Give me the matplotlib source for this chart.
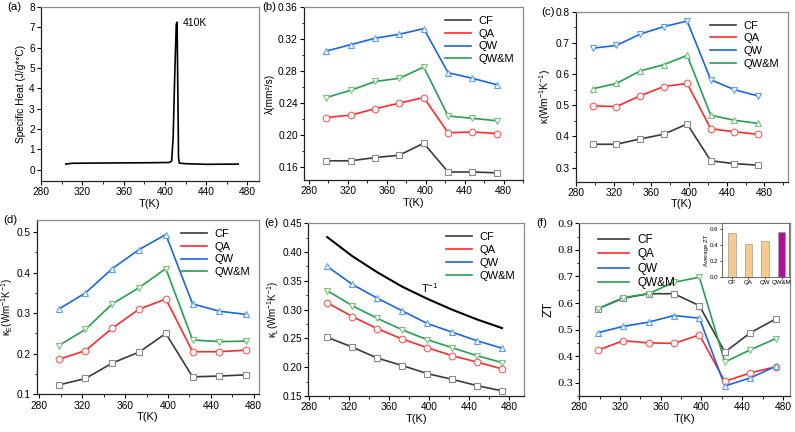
import matplotlib
matplotlib.use("Agg")
import matplotlib.pyplot as plt
from matplotlib.ticker import MultipleLocator, AutoMinorLocator

plt.rcParams["font.family"] = ["Liberation Sans", "DejaVu Sans"]
plt.rcParams["mathtext.fontset"] = "custom"
plt.rcParams["mathtext.rm"] = "Liberation Sans"
plt.rcParams["mathtext.it"] = "Liberation Sans"

# ---- data ----
T = [298, 323, 348, 373, 398, 423, 448, 473]
samples = ["CF", "QA", "QW", "QW&M"]

# (a) specific heat
T_cp = [304, 310, 330, 360, 390, 404, 406.5, 408, 409.5, 411, 411.8, 412.5, 413.2, 414, 420, 440, 471]
cp = [0.28, 0.32, 0.33, 0.34, 0.35, 0.36, 0.42, 1.6, 4.6, 7.15, 7.25, 4.0, 0.6, 0.33, 0.30, 0.27, 0.28]

# (b) thermal diffusivity
lam_CF = [0.168, 0.168, 0.172, 0.175, 0.190, 0.154, 0.154, 0.153]
lam_QA = [0.222, 0.225, 0.233, 0.240, 0.247, 0.203, 0.204, 0.202]
lam_QW = [0.305, 0.313, 0.321, 0.326, 0.333, 0.278, 0.271, 0.263]
lam_QWM = [0.247, 0.256, 0.267, 0.271, 0.285, 0.224, 0.221, 0.218]

# (c) total thermal conductivity
k_CF = [0.375, 0.375, 0.392, 0.407, 0.440, 0.322, 0.313, 0.308]
k_QA = [0.498, 0.496, 0.530, 0.560, 0.570, 0.425, 0.415, 0.407]
k_QW = [0.683, 0.692, 0.728, 0.752, 0.770, 0.582, 0.550, 0.530]
k_QWM = [0.553, 0.570, 0.610, 0.630, 0.660, 0.468, 0.452, 0.442]

# (d) electronic thermal conductivity
kE_CF = [0.123, 0.139, 0.177, 0.204, 0.250, 0.143, 0.145, 0.148]
kE_QA = [0.186, 0.208, 0.263, 0.310, 0.335, 0.205, 0.205, 0.209]
kE_QW = [0.310, 0.350, 0.410, 0.457, 0.494, 0.323, 0.305, 0.297]
kE_QWM = [0.220, 0.260, 0.323, 0.363, 0.410, 0.234, 0.230, 0.231]

# (e) lattice thermal conductivity
kL_CF = [0.252, 0.235, 0.216, 0.203, 0.189, 0.179, 0.168, 0.159]
kL_QA = [0.312, 0.288, 0.267, 0.249, 0.234, 0.220, 0.209, 0.197]
kL_QW = [0.375, 0.344, 0.320, 0.298, 0.276, 0.261, 0.246, 0.233]
kL_QWM = [0.333, 0.307, 0.285, 0.265, 0.248, 0.234, 0.220, 0.208]
kL_Tinv = [0.426, 0.393, 0.365, 0.340, 0.319, 0.300, 0.283, 0.268]

# (f) ZT
zt_CF = [0.578, 0.618, 0.635, 0.635, 0.590, 0.415, 0.488, 0.540]
zt_QA = [0.422, 0.458, 0.450, 0.448, 0.480, 0.305, 0.337, 0.360]
zt_QW = [0.488, 0.512, 0.528, 0.553, 0.543, 0.288, 0.318, 0.362]
zt_QWM = [0.578, 0.620, 0.635, 0.678, 0.697, 0.378, 0.424, 0.466]
avg_zt = [0.56, 0.41, 0.45, 0.57]

LINE = {"CF": "#3a3a3a", "QA": "#ff2a2a", "QW": "#1a66e0", "QW&M": "#25a050"}
MARK = {"CF": "#8a8a8a", "QA": "#ff5a5a", "QW": "#5aa0f0", "QW&M": "#7cc07c"}

fig = plt.figure(figsize=(7.95, 4.32), dpi=100)


def style(ax, xlim, ylim, ymaj, yminor=True):
    ax.set_xlim(*xlim)
    ax.set_ylim(*ylim)
    ax.xaxis.set_major_locator(MultipleLocator(40))
    ax.xaxis.set_minor_locator(MultipleLocator(20))
    ax.yaxis.set_major_locator(MultipleLocator(ymaj))
    if yminor:
        ax.yaxis.set_minor_locator(AutoMinorLocator(2))
    ax.tick_params(which="major", direction="out", length=3, width=0.8, labelsize=7.3, pad=1.5)
    ax.tick_params(which="minor", direction="out", length=1.8, width=0.6)
    ax.tick_params(top=False, right=False)
    for s in ("top", "right"):
        ax.spines[s].set_color("#8c8c8c")
    for s in ("left", "bottom"):
        ax.spines[s].set_color("#222222")
    for s in ax.spines.values():
        s.set_linewidth(0.9)
    ax.set_xlabel("T(K)", fontsize=8, labelpad=1)


def series(ax, ys, markers):
    for name, y, m in zip(samples, ys, markers):
        ax.plot(T, y, color=LINE[name], lw=1.2, label=name, zorder=2)
        ax.plot(T, y, ls="none", marker=m, ms=4.8, mfc="white", mec=MARK[name], mew=0.8, zorder=3)


def legend(ax, loc):
    ax.legend(loc=loc, frameon=False, fontsize=8, handlelength=2.3, labelspacing=0.25,
              handletextpad=0.7, borderaxespad=0.4)


def panel(ax, lab, dx):
    ax.text(dx, 1.0, lab, transform=ax.transAxes, fontsize=8.2, va="center", ha="left")


# (a)
ax = fig.add_axes([0.0516, 0.581, 0.274, 0.403])
ax.plot(T_cp, cp, color="black", lw=1.2)
style(ax, (280, 491), (-0.55, 8), 1, yminor=False)
ax.set_ylabel("Specific Heat (J/g*°C)", fontsize=7.3, labelpad=2)
ax.text(417, 7.2, "410K", fontsize=7.5, va="center")
panel(ax, "(a)", -0.155)

# (b)
ax = fig.add_axes([0.3824, 0.5833, 0.2755, 0.4005])
series(ax, [lam_CF, lam_QA, lam_QW, lam_QWM], ["s", "o", "^", "v"])
style(ax, (275, 500), (0.144, 0.36), 0.04)
ax.set_ylabel("λ(mm²/s)", fontsize=7.3, labelpad=2)
legend(ax, "upper right")
panel(ax, "(b)", -0.19)

# (c)
ax = fig.add_axes([0.7245, 0.5794, 0.2667, 0.3935])
series(ax, [k_CF, k_QA, k_QW, k_QWM], ["s", "o", "v", "^"])
style(ax, (280, 505), (0.255, 0.8), 0.1)
ax.set_ylabel("κ(Wm$^{-1}$K$^{-1}$)", fontsize=7.3, labelpad=2)
legend(ax, "upper right")
panel(ax, "(c)", -0.165)

# (d)
ax = fig.add_axes([0.0462, 0.0873, 0.2796, 0.4035])
series(ax, [kE_CF, kE_QA, kE_QW, kE_QWM], ["s", "o", "^", "v"])
style(ax, (277.5, 485), (0.1, 0.53), 0.1)
ax.set_ylabel("κ$_E$(Wm$^{-1}$K$^{-1}$)", fontsize=7.0, labelpad=1)
legend(ax, "upper right")
panel(ax, "(d)", -0.15)

# (e)
ax = fig.add_axes([0.3878, 0.0833, 0.2713, 0.3998])
ax.plot(T, kL_Tinv, color="black", lw=1.5, zorder=2)
series(ax, [kL_CF, kL_QA, kL_QW, kL_QWM], ["s", "o", "^", "v"])
style(ax, (279, 495), (0.15, 0.45), 0.05)
ax.yaxis.set_major_formatter(plt.FormatStrFormatter("%.2f"))
ax.set_ylabel("κ$_L$(Wm$^{-1}$K$^{-1}$)", fontsize=7.0, labelpad=1)
ax.text(392, 0.338, "T$^{-1}$", fontsize=8, va="center")
legend(ax, "upper right")
panel(ax, "(e)", -0.205)

# (f)
ax = fig.add_axes([0.7287, 0.0833, 0.265, 0.3998])
series(ax, [zt_CF, zt_QA, zt_QW, zt_QWM], ["s", "o", "^", "v"])
style(ax, (280, 487), (0.25, 0.9), 0.1)
ax.set_yticks([0.3, 0.4, 0.5, 0.6, 0.7, 0.8, 0.9])
ax.set_yticklabels(["0.3", "0.4", "0.5", "0.6", "0.7", "0.8", "0.9"], family="DejaVu Serif", fontsize=7.3)
ax.set_ylabel("ZT", fontsize=9, labelpad=2)
ax.legend(loc="upper left", frameon=False, fontsize=8.5, handlelength=2.6, labelspacing=0.2,
          handletextpad=0.7, borderaxespad=0.5, bbox_to_anchor=(0.04, 1.0))
panel(ax, "(f)", -0.205)

# inset average ZT
ins = fig.add_axes([0.9082, 0.3588, 0.0843, 0.125])
ins.bar(samples, avg_zt, width=0.45, color=["#fac98e", "#fac98e", "#fac98e", "#b0109a"],
        edgecolor="#9a9a9a", linewidth=0.5)
ins.set_ylim(0, 0.68)
ins.set_xlim(-0.6, 3.45)
ins.yaxis.set_major_locator(MultipleLocator(0.2))
ins.tick_params(labelsize=4.4, length=1.5, width=0.5, pad=1)
ins.set_ylabel("Average ZT", fontsize=4.3, labelpad=1)
for s in ins.spines.values():
    s.set_linewidth(0.6)
    s.set_color("#555555")

fig.savefig("out.png", dpi=100)
